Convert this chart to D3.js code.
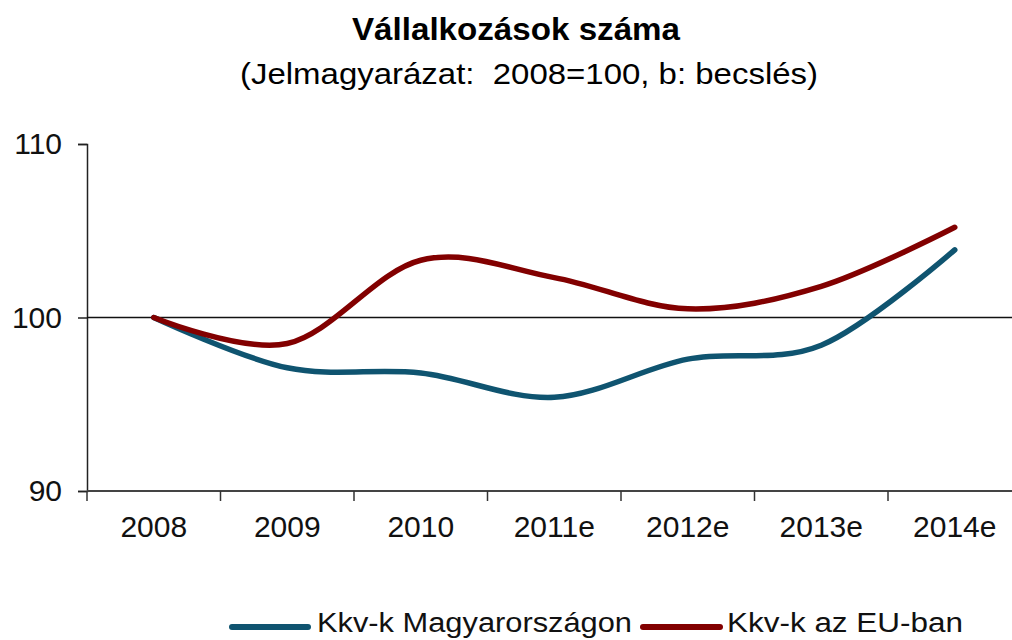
<!DOCTYPE html>
<html>
<head>
<meta charset="utf-8">
<script src="https://cdn.jsdelivr.net/npm/d3@7"></script>
<style>
  body { margin: 0; background: #fff; }
  svg { font-family: "Liberation Sans", Arial, sans-serif; }
</style>
</head>
<body>
<div id="chart"></div>
<script>
// data
const categories = ["2008", "2009", "2010", "2011e", "2012e", "2013e", "2014e"];
const hungary = [100, 97.1, 96.8, 95.4, 97.6, 98.4, 103.9];
const eu = [100, 98.5, 103.3, 102.3, 100.5, 101.8, 105.2];
const yTicks = [90, 100, 110];
const seriesNames = ["Kkv-k Magyarországon", "Kkv-k az EU-ban"];

const width = 1012;
const height = 640;
const colors = ["#0f5470", "#820000"];

const svg = d3.select("#chart")
    .append("svg")
    .attr("width", width)
    .attr("height", height);

const x = d3.scaleBand()
    .domain(categories)
    .range([87, 87 + 133.5 * categories.length]);

const y = d3.scaleLinear()
    .domain([90, 110])
    .range([491, 144]);

// title
svg.append("text")
    .attr("x", 352)
    .attr("y", 40)
    .attr("textLength", 328)
    .attr("lengthAdjust", "spacingAndGlyphs")
    .style("font-size", "31px")
    .style("font-weight", "bold")
    .text("Vállalkozások száma");

svg.append("text")
    .attr("x", 240)
    .attr("y", 84)
    .attr("textLength", 578)
    .attr("lengthAdjust", "spacingAndGlyphs")
    .style("font-size", "30px")
    .style("white-space", "pre")
    .text("(Jelmagyarázat:  2008=100, b: becslés)");

// y axis
const yAxis = svg.append("g")
    .attr("transform", "translate(87,0)")
    .call(d3.axisLeft(y).tickValues(yTicks).tickSize(9).tickPadding(16));
yAxis.select(".domain").attr("stroke", "#222").attr("stroke-width", 1.5);
yAxis.selectAll(".tick line").attr("stroke", "#222").attr("stroke-width", 1.5);
yAxis.selectAll(".tick text")
    .attr("fill", "#111")
    .style("font-size", "30px");
yAxis.attr("font-family", null).attr("font-size", null);

// reference line at 100
svg.append("line")
    .attr("x1", 87)
    .attr("x2", width)
    .attr("y1", y(100))
    .attr("y2", y(100))
    .attr("stroke", "#111")
    .attr("stroke-width", 1.5);

// x axis with ticks between categories
const xAxis = svg.append("g")
    .attr("transform", `translate(0,${y(90)})`);
xAxis.append("line")
    .attr("x1", 87)
    .attr("x2", width)
    .attr("stroke", "#444")
    .attr("stroke-width", 2);
xAxis.selectAll(".xtick")
    .data(categories)
    .enter().append("line")
    .attr("x1", d => x(d))
    .attr("x2", d => x(d))
    .attr("y1", 0)
    .attr("y2", 10)
    .attr("stroke", "#333")
    .attr("stroke-width", 1.5);
xAxis.selectAll(".xlabel")
    .data(categories)
    .enter().append("text")
    .attr("x", d => x(d) + x.bandwidth() / 2)
    .attr("y", 46)
    .attr("text-anchor", "middle")
    .attr("fill", "#111")
    .style("font-size", "30px")
    .text(d => d);

// lines
const line = d3.line()
    .x((d, i) => x(categories[i]) + x.bandwidth() / 2)
    .y(d => y(d))
    .curve(d3.curveCardinal.tension(0));

[hungary, eu].forEach((s, i) => {
    svg.append("path")
        .datum(s)
        .attr("d", line)
        .attr("fill", "none")
        .attr("stroke", colors[i])
        .attr("stroke-width", 5.5)
        .attr("stroke-linecap", "round");
});

// legend
const legendItems = [
    { name: seriesNames[0], x1: 232, x2: 308, tx: 317, w: 315 },
    { name: seriesNames[1], x1: 643, x2: 720, tx: 727, w: 236 }
];
legendItems.forEach((d, i) => {
    svg.append("line")
        .attr("x1", d.x1)
        .attr("x2", d.x2)
        .attr("y1", 627)
        .attr("y2", 627)
        .attr("stroke", colors[i])
        .attr("stroke-width", 6)
        .attr("stroke-linecap", "round");
    svg.append("text")
        .attr("x", d.tx)
        .attr("y", 632)
        .attr("textLength", d.w)
        .attr("lengthAdjust", "spacingAndGlyphs")
        .attr("fill", "#111")
        .style("font-size", "27px")
        .text(d.name);
});
</script>
</body>
</html>
